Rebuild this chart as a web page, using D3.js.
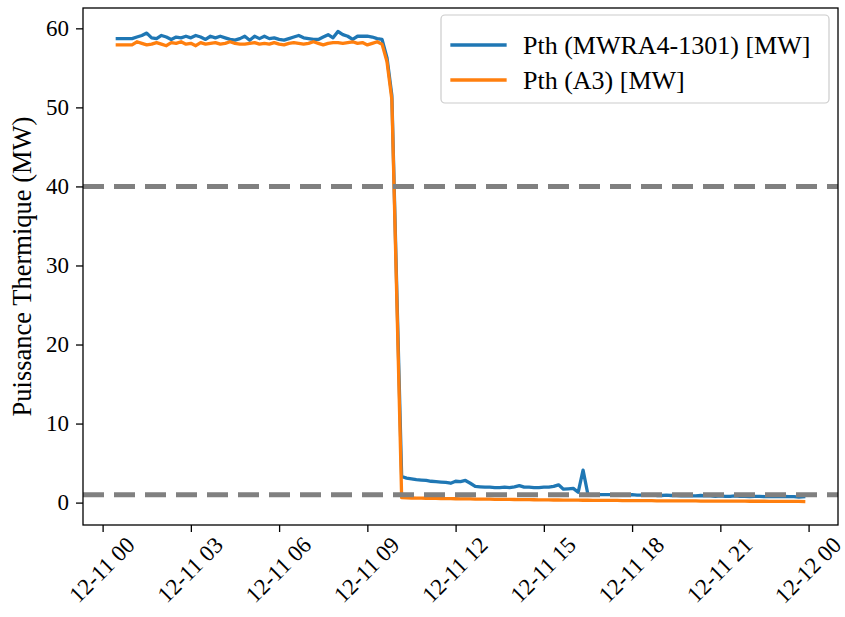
<!DOCTYPE html>
<html>
<head>
<meta charset="utf-8">
<script src="https://cdn.jsdelivr.net/npm/d3@7"></script>
<style>
  html, body { margin: 0; padding: 0; background: #fff; }
  svg { display: block; }
  text { font-family: "Liberation Serif", "Times New Roman", serif; fill: #000; }
</style>
</head>
<body>
<svg id="chart" width="845" height="617"></svg>
<script>
// ---------- data (10-minute samples starting 12-11 00:30) ----------
const startTime = Date.UTC(2023, 11, 11, 0, 30);
const stepMinutes = 10;

const pthMwra = [
  58.7,58.7,58.7,58.7,58.9,59.1,59.4,58.8,58.7,59.1,
  58.9,58.6,58.9,58.8,59.0,58.8,59.1,58.9,58.6,59.0,
  58.8,59.0,58.8,58.6,58.5,58.7,59.0,58.5,59.0,58.7,
  59.0,58.7,58.8,58.6,58.5,58.7,58.9,59.1,58.8,58.7,
  58.6,58.6,58.9,59.2,58.8,59.6,59.2,59.0,58.6,59.0,
  59.0,59.0,58.9,58.7,58.6,56.3,51.5,27.0,
  3.3,3.1,3.0,2.9,2.85,2.8,2.7,2.65,2.6,2.55,
  2.45,2.7,2.65,2.8,2.45,2.05,2.0,1.95,1.95,1.9,
  1.9,1.95,1.9,2.0,2.15,1.95,1.95,1.9,1.9,1.95,
  1.95,2.05,2.25,1.7,1.75,1.8,1.3,4.1,1.0,0.95,
  1.0,1.0,1.0,1.0,1.0,1.0,0.95,1.0,0.95,0.95,
  0.95,1.0,0.9,0.9,0.95,0.9,0.9,0.85,0.9,0.85,
  0.85,0.9,0.85,0.85,0.8,0.85,0.8,0.8,0.85,0.8,
  0.8,0.75,0.8,0.8,0.75,0.8,0.75,0.75,0.8,0.75,
  0.75,0.7,0.75
];

const pthA3 = [
  57.9,57.9,57.9,57.9,58.3,58.1,57.9,58.0,58.2,58.0,
  57.8,58.2,58.1,58.3,58.0,58.1,57.8,58.2,58.0,58.1,
  58.2,58.0,58.1,58.3,58.1,58.0,58.0,58.1,58.2,58.0,
  58.1,58.0,58.2,58.0,57.9,58.1,58.2,58.1,58.0,58.1,
  58.3,58.1,57.9,58.1,58.2,58.2,58.1,58.2,58.3,58.1,
  58.2,57.9,58.1,58.3,58.0,55.8,51.0,26.0,
  0.62,0.60,0.58,0.57,0.56,0.55,0.54,0.53,0.52,0.51,
  0.50,0.49,0.48,0.47,0.46,0.45,0.44,0.44,0.43,0.42,
  0.41,0.40,0.40,0.39,0.38,0.37,0.37,0.36,0.35,0.35,
  0.34,0.33,0.33,0.32,0.32,0.31,0.31,0.30,0.30,0.29,
  0.29,0.28,0.28,0.27,0.27,0.26,0.26,0.25,0.25,0.25,
  0.24,0.24,0.23,0.23,0.23,0.22,0.22,0.22,0.21,0.21,
  0.21,0.20,0.20,0.20,0.19,0.19,0.19,0.18,0.18,0.18,
  0.18,0.17,0.17,0.17,0.17,0.16,0.16,0.16,0.16,0.15,
  0.15,0.15,0.14
];

const seriesNames = ["Pth (MWRA4-1301) [MW]", "Pth (A3) [MW]"];
const seriesColors = ["#1f77b4", "#ff7f0e"];
const thresholds = [40, 1];
const yTickValues = [0, 10, 20, 30, 40, 50, 60];
const yLabel = "Puissance Thermique (MW)";

// ---------- layout ----------
const svg = d3.select("#chart");
const mLeft = 83, mRight = 838, mTop = 8, mBottom = 525;
const tickFont = 23, labelFont = 26.5, legendFont = 26;
const serif = "Liberation Serif, Times New Roman, serif";

const times = pthMwra.map((_, i) => new Date(startTime + i * stepMinutes * 60000));
const series = [pthMwra, pthA3].map((vals, k) => ({
  name: seriesNames[k], color: seriesColors[k],
  points: vals.map((v, i) => ({ t: times[i], v }))
}));

// matplotlib-like 5% margins
const tExt = d3.extent(times, d => +d);
const tPad = (tExt[1] - tExt[0]) * 0.05;
const allV = pthMwra.concat(pthA3);
const vExt = d3.extent(allV);
const vPad = (vExt[1] - vExt[0]) * 0.05;

const x = d3.scaleUtc().domain([new Date(tExt[0] - tPad), new Date(tExt[1] + tPad)]).range([mLeft, mRight]);
const y = d3.scaleLinear().domain([vExt[0] - vPad, vExt[1] + vPad]).range([mBottom, mTop]);

svg.append("defs").append("clipPath").attr("id", "plotclip")
  .append("rect").attr("x", mLeft).attr("y", mTop).attr("width", mRight - mLeft).attr("height", mBottom - mTop);

const plot = svg.append("g");
const line = d3.line().x(d => x(d.t)).y(d => y(d.v));
const dataG = plot.append("g").attr("clip-path", "url(#plotclip)");
series.forEach(s => {
  dataG.append("path").datum(s.points)
    .attr("d", line).attr("fill", "none")
    .attr("stroke", s.color).attr("stroke-width", 3.3)
    .attr("stroke-linejoin", "round").attr("stroke-linecap", "square");
});

// threshold lines
thresholds.forEach(th => {
  dataG.append("line")
    .attr("x1", mLeft).attr("x2", mRight)
    .attr("y1", y(th)).attr("y2", y(th))
    .attr("stroke", "#808080").attr("stroke-width", 5)
    .attr("stroke-dasharray", "21,10");
});

// frame
plot.append("rect").attr("x", mLeft).attr("y", mTop)
  .attr("width", mRight - mLeft).attr("height", mBottom - mTop)
  .attr("fill", "none").attr("stroke", "#000").attr("stroke-width", 1.3);

// y axis
const yAxis = d3.axisLeft(y).tickValues(yTickValues).tickSize(7).tickPadding(7).tickFormat(d3.format("d"));
const yG = svg.append("g").attr("transform", `translate(${mLeft},0)`).call(yAxis)
  .attr("font-family", serif).attr("font-size", tickFont);
yG.select(".domain").remove();
yG.selectAll(".tick line").attr("stroke", "#000").attr("stroke-width", 1.3);
yG.selectAll(".tick text").attr("fill", "#000");

// x axis
const xTicks = x.ticks(d3.utcHour.every(3));
const fmt = d3.utcFormat("%m-%d %H");
const xAxis = d3.axisBottom(x).tickValues(xTicks).tickSize(7).tickFormat(fmt);
const xG = svg.append("g").attr("transform", `translate(0,${mBottom})`).call(xAxis)
  .attr("font-family", serif).attr("font-size", tickFont);
xG.select(".domain").remove();
xG.selectAll(".tick line").attr("stroke", "#000").attr("stroke-width", 1.3);
xG.selectAll(".tick text")
  .attr("fill", "#000")
  .attr("text-anchor", "middle").attr("dy", null).attr("y", 0)
  .attr("dominant-baseline", "central")
  .each(function () {
    const w = this.getComputedTextLength();
    const h = tickFont * 0.75;
    const half = (w + h) / (2 * Math.SQRT2);
    d3.select(this).attr("transform", `translate(-1,${10 + half}) rotate(-45)`);
  });

// y label
svg.append("text")
  .attr("transform", `translate(22,${(mTop + mBottom) / 2}) rotate(-90)`)
  .attr("text-anchor", "middle").attr("dominant-baseline", "central")
  .attr("font-family", serif).attr("font-size", labelFont).text(yLabel);

// legend
const lg = svg.append("g");
lg.append("rect").attr("x", 441).attr("y", 15).attr("width", 388).attr("height", 88)
  .attr("rx", 4).attr("fill", "rgba(255,255,255,0.8)").attr("stroke", "#cccccc").attr("stroke-width", 1.2);
series.forEach((s, k) => {
  const yy = 45 + k * 35;
  lg.append("line").attr("x1", 452).attr("x2", 505).attr("y1", yy).attr("y2", yy)
    .attr("stroke", s.color).attr("stroke-width", 3.3).attr("stroke-linecap", "square");
  lg.append("text").attr("x", 523).attr("y", yy).attr("dominant-baseline", "central")
    .attr("font-family", serif).attr("font-size", legendFont).text(s.name);
});
</script>
</body>
</html>
